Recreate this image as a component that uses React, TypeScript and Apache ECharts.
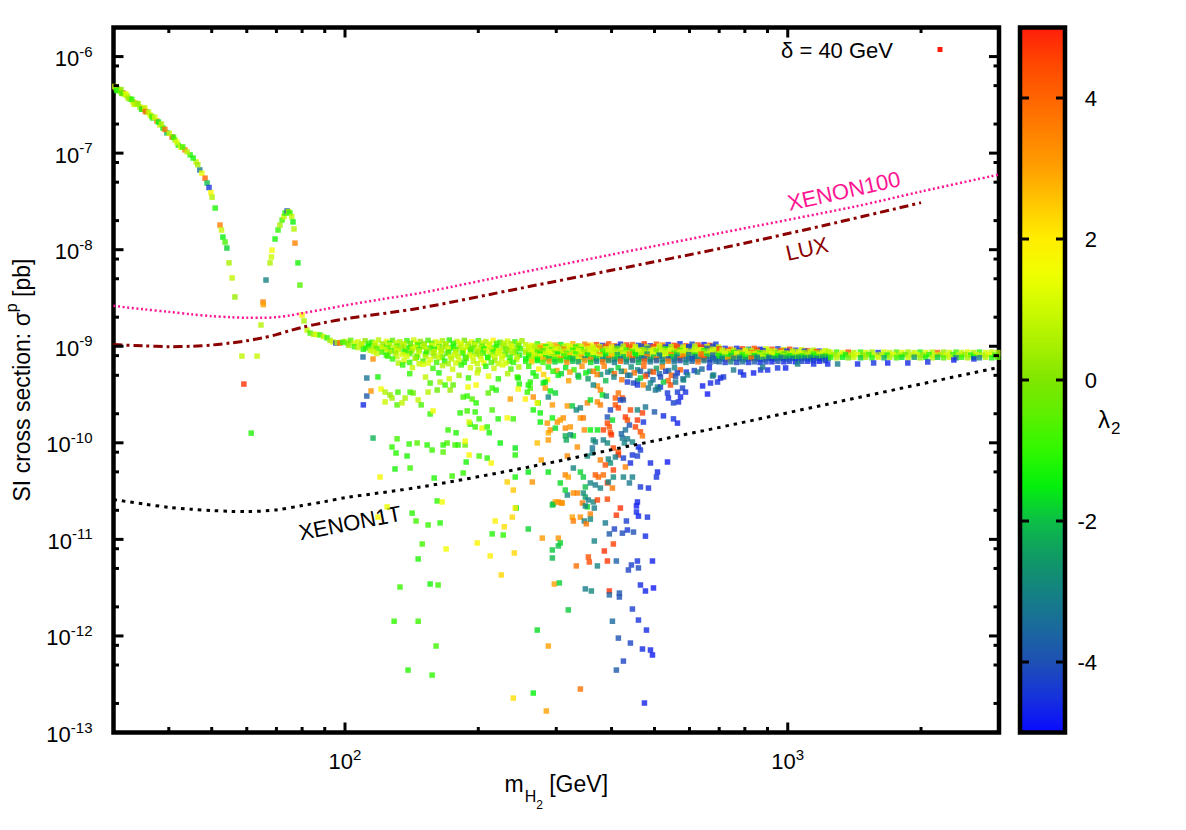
import React, { useEffect, useRef } from 'react';
import * as echarts from 'echarts';

const FONT = '"Liberation Sans", Arial, Helvetica, sans-serif';

const X_MIN = 30;
const X_MAX = 3000;
const Y_MIN = 1e-13;
const Y_MAX = 2e-6;
const CB_MIN = -5;
const CB_MAX = 5;

const xMajorTicks = [100, 1000];
const xMinorTicks = [40, 50, 60, 70, 80, 90, 200, 300, 400, 500, 600, 700, 800, 900, 2000];
const yMajorTicks = [1e-13, 1e-12, 1e-11, 1e-10, 1e-9, 1e-8, 1e-7, 1e-6];
const yMinorTicks = [2e-13, 5e-13, 8e-13, 2e-12, 5e-12, 8e-12, 2e-11, 5e-11, 8e-11, 2e-10, 5e-10, 8e-10,
  2e-9, 5e-9, 8e-9, 2e-8, 5e-8, 8e-8, 2e-7, 5e-7, 8e-7];
const cbTicks = [-4, -2, 0, 2, 4];

// lambda_2 palette from -5 (bottom) to 5 (top), 0.5 steps
const lambdaPalette = ['#0a0aff', '#1632dc', '#1e50b4', '#1a6a9c', '#148282', '#109a64', '#0cbe46', '#04f00c',
  '#30f800', '#5cf000', '#80e600', '#a8f000', '#ccfa00', '#f0ff00', '#ffee00', '#ffc800', '#ffa000', '#ff8200',
  '#ff6400', '#ff4600', '#ff1e0a'];

// exclusion limits [m_H2 (GeV), sigma (pb)]
const xenon100Line = [[30, 2.62e-9], [35, 2.42e-9], [40, 2.27e-9], [45, 2.14e-9], [50, 2.05e-9], [55, 2.0e-9],
  [60, 1.97e-9], [65, 1.97e-9], [70, 2.0e-9], [75, 2.08e-9], [80, 2.2e-9], [90, 2.42e-9], [100, 2.65e-9],
  [120, 3.05e-9], [150, 3.6e-9], [250, 5.8e-9], [420, 9.3e-9], [710, 1.5e-8], [1420, 2.8e-8], [2000, 4.0e-8],
  [3000, 6.0e-8]];
const luxLine = [[30, 1.04e-9], [35, 1.01e-9], [40, 0.99e-9], [45, 1.0e-9], [50, 1.03e-9], [55, 1.08e-9],
  [60, 1.14e-9], [65, 1.22e-9], [70, 1.32e-9], [75, 1.45e-9], [80, 1.57e-9], [90, 1.76e-9], [100, 1.92e-9],
  [148, 2.49e-9], [250, 4.0e-9], [420, 6.4e-9], [710, 1.04e-8], [1200, 1.77e-8], [2000, 3.07e-8]];
const xenon1tLine = [[30, 2.58e-11], [35, 2.33e-11], [40, 2.15e-11], [45, 2.05e-11], [50, 1.99e-11], [55, 1.95e-11],
  [60, 1.94e-11], [70, 2.02e-11], [80, 2.24e-11], [90, 2.46e-11], [100, 2.7e-11], [149, 3.5e-11], [263, 5.67e-11],
  [443, 9.35e-11], [749, 1.54e-10], [1470, 3.0e-10], [2900, 5.86e-10], [3000, 6.05e-10]];

// scan points [m_H2 (GeV), sigma_p (pb), lambda_2]
const curvePoints = [
  [30.4, 4.73e-7, 0.6], [30.6, 4.6e-7, -1.0], [30.8, 4.5e-7, -0.4], [31.0, 4.4e-7, 1.1], [31.5, 4.2e-7, 4.5],
  [31.8, 4.05e-7, 0.9], [32.2, 3.91e-7, 0.3], [32.7, 3.64e-7, -0.8], [33.2, 3.39e-7, 1.0], [33.6, 3.3e-7, 2.8],
  [33.9, 3.23e-7, -1.2], [34.4, 3.01e-7, 0.7], [35.0, 2.87e-7, 3.6], [35.7, 2.67e-7, -0.5], [36.3, 2.48e-7, 1.2],
  [36.8, 2.31e-7, -1.0], [37.6, 2.15e-7, 3.2], [38.2, 1.96e-7, 0.8], [38.8, 1.82e-7, -1.4], [39.6, 1.62e-7, -2.0],
  [40.7, 1.47e-7, 4.2], [41.3, 1.37e-7, 0.5], [42.0, 1.21e-7, -0.9], [42.6, 1.15e-7, 1.0], [43.5, 1.08e-7, 3.4],
  [44.7, 9.6e-8, -1.1], [46.1, 8.1e-8, 0.9], [47.0, 6.7e-8, -3.2], [47.5, 6.2e-8, 1.4], [48.3, 5.5e-8, 4.0],
  [48.8, 4.9e-8, -2.0], [49.3, 4.4e-8, -4.5], [49.8, 3.9e-8, 1.8], [50.1, 3.5e-8, 0.6], [50.9, 2.7e-8, -1.2],
  [52.2, 1.8e-8, 3.6], [52.6, 1.6e-8, 0.9], [53.0, 1.35e-8, -1.5], [53.6, 1.2e-8, -0.8], [54.1, 1.04e-8, -1.8],
  [54.7, 7.3e-9, 0.5], [55.6, 5.1e-9, 0.8], [56.4, 3.24e-9, 0.3],
  [30.2, 4.9e-7, 1.0], [30.5, 4.45e-7, -1.2], [31.2, 4.55e-7, 0.2], [31.3, 4.15e-7, -0.7], [32.0, 4.1e-7, 1.3],
  [32.4, 3.7e-7, 0.5], [33.0, 3.6e-7, -1.0], [33.4, 3.2e-7, 0.8], [34.1, 3.25e-7, 0.4], [34.7, 2.85e-7, -1.3],
  [35.3, 2.95e-7, 1.0], [35.4, 2.7e-7, 4.0], [36.0, 2.65e-7, 0.9], [36.6, 2.4e-7, -0.6], [37.2, 2.35e-7, 1.1],
  [37.9, 2.1e-7, -1.5], [38.5, 2.0e-7, 0.6], [39.2, 1.76e-7, 3.8], [40.1, 1.6e-7, 0.9], [41.0, 1.46e-7, -1.0],
  [41.7, 1.3e-7, 1.2], [43.0, 1.16e-7, -0.8], [44.0, 1.03e-7, 0.7], [45.4, 8.9e-8, -1.3], [46.5, 7.6e-8, 0.4],
  [58.5, 7.9e-10, 0.8], [63.3, 7.9e-10, 0.9], [59.1, 4.06e-10, 4.8], [61.4, 1.26e-10, -1.2],
  [64.6, 1.66e-9, 0.7], [65.3, 2.87e-9, 3.5], [65.4, 2.7e-9, 3.0], [66.3, 4.85e-9, -3.0], [67.7, 7.3e-9, 0.6],
  [68.2, 8.4e-9, 1.0], [68.4, 9.9e-9, 1.6], [69.5, 1.29e-8, -1.3], [70.6, 1.6e-8, -1.0], [71.3, 1.8e-8, 0.5],
  [72.1, 2.03e-8, -0.8], [72.8, 2.2e-8, 0.9], [73.2, 2.4e-8, -1.1], [74.0, 2.52e-8, -4.0], [74.5, 2.48e-8, 0.4],
  [75.1, 2.4e-8, -1.0], [75.8, 2.2e-8, 0.8], [76.3, 1.94e-8, -1.4], [76.7, 1.64e-8, 0.7], [77.1, 1.17e-8, 3.5],
  [78.3, 7.3e-9, -1.3], [79.1, 4.3e-9, -0.6], [80.0, 2.11e-9, 2.0], [80.8, 1.83e-9, 0.5], [82.1, 1.47e-9, 0.9],
  [83.4, 1.37e-9, -0.7], [84.9, 1.33e-9, 0.6], [86.3, 1.32e-9, 1.1], [87.8, 1.31e-9, -0.9], [89.4, 1.26e-9, 0.8],
  [91.1, 1.22e-9, -1.1], [92.5, 1.15e-9, 0.4], [93.9, 1.11e-9, 1.0], [95.4, 1.08e-9, -4.6], [96.0, 1.09e-9, 0.7],
  [97.4, 1.08e-9, 4.0], [98.8, 1.1e-9, -0.9],
];

const bandLowPoints = [
  [100, 1.12e-9, 0.9], [103, 1.15e-9, -0.6], [107, 1.11e-9, 1.1], [111, 1.14e-9, 0.2], [115, 1.1e-9, -1.0],
  [119, 1.16e-9, 0.7], [124, 1.12e-9, 1.3], [128, 1.15e-9, -0.4], [133, 1.11e-9, 0.5], [138, 1.14e-9, -0.9],
  [143, 1.16e-9, 1.0], [148, 1.12e-9, 0.1], [154, 1.15e-9, -0.7], [160, 1.11e-9, 1.2], [166, 1.14e-9, 0.4],
  [172, 1.16e-9, -1.1], [179, 1.12e-9, 0.8], [186, 1.15e-9, -0.2], [193, 1.11e-9, 1.4], [200, 1.14e-9, -0.8],
  [208, 1.12e-9, 0.6], [216, 1.15e-9, 1.8], [224, 1.1e-9, -0.5], [233, 1.13e-9, 1.1], [242, 1.11e-9, -1.2],
  [251, 1.14e-9, 0.3],
  [101.5, 1.07e-9, -0.3], [105, 1.08e-9, 1.0], [109, 1.06e-9, 0.6], [113, 1.07e-9, -0.9], [117, 1.08e-9, 1.2],
  [121.5, 1.06e-9, 0.4], [126, 1.07e-9, -1.1], [130.5, 1.08e-9, 0.9], [135.5, 1.06e-9, 0.7], [140.5, 1.07e-9, -0.5],
  [145.5, 1.08e-9, 1.1], [151, 1.06e-9, 0.2], [157, 1.07e-9, -0.8], [163, 1.08e-9, 1.0], [169, 1.06e-9, 0.6],
  [175.5, 1.07e-9, -1.0], [182.5, 1.08e-9, 1.3], [189.5, 1.06e-9, 0.5], [196.5, 1.07e-9, -0.4], [204, 1.08e-9, 0.9],
  [212, 1.06e-9, 1.2], [220, 1.07e-9, -0.9], [228.5, 1.08e-9, 0.7], [237.5, 1.06e-9, 0.3], [246.5, 1.07e-9, 1.0],
  [102, 1.02e-9, 0.4], [105, 9.9e-10, -0.9], [109, 1.03e-9, 0.8], [113, 1.0e-9, -1.4], [117, 1.02e-9, 0.6],
  [122, 9.9e-10, -0.3], [126, 1.03e-9, 1.0], [131, 1.0e-9, -0.8], [136, 1.02e-9, 0.9], [141, 9.9e-10, 0.2],
  [146, 1.03e-9, -1.0], [151, 1.0e-9, 0.7], [157, 1.02e-9, 1.2], [163, 9.9e-10, -0.5], [169, 1.03e-9, 0.5],
  [176, 1.0e-9, -1.2], [183, 1.02e-9, 0.9], [190, 9.9e-10, 0.0], [197, 1.03e-9, 1.1], [204, 1.0e-9, -0.7],
  [212, 1.02e-9, 0.8], [220, 9.9e-10, -1.1], [229, 1.03e-9, 0.6], [238, 1.0e-9, 1.3], [247, 1.02e-9, -0.4],
  [107, 9.7e-10, 0.8], [111.5, 9.6e-10, -1.0], [116, 9.7e-10, 0.5], [120.5, 9.8e-10, 1.1], [125, 9.6e-10, -0.6],
  [129.5, 9.7e-10, 0.9], [134.5, 9.8e-10, 0.3], [139.5, 9.6e-10, -1.2], [144.5, 9.7e-10, 1.0], [150, 9.8e-10, 0.6],
  [155.5, 9.6e-10, -0.7], [161.5, 9.7e-10, 1.2], [167.5, 9.8e-10, 0.4], [174, 9.6e-10, -1.0], [181, 9.7e-10, 0.8],
  [188, 9.8e-10, 1.1], [195, 9.6e-10, -0.5], [202.5, 9.7e-10, 0.7], [210, 9.8e-10, 1.3], [218, 9.6e-10, -0.9],
  [226.5, 9.7e-10, 0.5], [235.5, 9.8e-10, 1.0], [244.5, 9.6e-10, -0.3],
  [110, 9.3e-10, -1.2], [114, 9.1e-10, 0.7], [118, 9.4e-10, -0.6], [123, 9.2e-10, 1.0], [127, 9.0e-10, -1.0],
  [132, 9.3e-10, 0.5], [137, 9.1e-10, -0.3], [142, 9.4e-10, 1.1], [147, 9.2e-10, -0.9], [153, 9.0e-10, 0.8],
  [159, 9.3e-10, -1.3], [165, 9.1e-10, 0.6], [171, 9.4e-10, 1.2], [178, 9.2e-10, -0.8], [185, 9.0e-10, 0.4],
  [192, 9.3e-10, -0.5], [199, 9.1e-10, 1.0], [206, 9.4e-10, -1.1], [214, 9.2e-10, 0.7], [222, 9.0e-10, 1.5],
  [231, 9.3e-10, -0.6], [240, 9.1e-10, 0.9], [249, 9.4e-10, -1.0],
  [116, 8.8e-10, 1.0], [121, 8.7e-10, -0.8], [126, 8.8e-10, 0.6], [131, 8.9e-10, 1.2], [136, 8.7e-10, -1.1],
  [141.5, 8.8e-10, 0.4], [147, 8.9e-10, 0.9], [153, 8.7e-10, -0.5], [159, 8.8e-10, 1.1], [165, 8.9e-10, 0.7],
  [171.5, 8.7e-10, -1.2], [178, 8.8e-10, 0.8], [185, 8.9e-10, 1.0], [192.5, 8.7e-10, -0.7], [200, 8.8e-10, 0.5],
  [208, 8.9e-10, 1.2], [216, 8.7e-10, -1.0], [224.5, 8.8e-10, 0.9], [233.5, 8.9e-10, 0.3], [242.5, 8.7e-10, -0.6],
  [118, 8.4e-10, 0.9], [124, 8.1e-10, -1.1], [130, 8.5e-10, 0.3], [135, 8.2e-10, 1.2], [140, 8.4e-10, -0.7],
  [146, 8.0e-10, 0.8], [152, 8.3e-10, -1.2], [158, 8.5e-10, 0.5], [164, 8.1e-10, 1.0], [170, 8.4e-10, -0.4],
  [177, 8.2e-10, 0.9], [184, 8.5e-10, -0.9], [191, 8.1e-10, 1.3], [198, 8.3e-10, 0.2], [205, 8.5e-10, -1.0],
  [213, 8.1e-10, 0.8], [221, 8.4e-10, 1.1], [230, 8.2e-10, -0.6], [239, 8.5e-10, 0.6], [248, 8.1e-10, -1.3],
  [125, 7.9e-10, -0.9], [131, 7.8e-10, 0.9], [138, 7.9e-10, 1.2], [145, 7.7e-10, -1.1], [152, 7.8e-10, 0.7],
  [159, 7.9e-10, 0.4], [166, 7.7e-10, -0.6], [173, 7.8e-10, 1.0], [180, 7.9e-10, 0.8], [187, 7.7e-10, -1.2],
  [194.5, 7.8e-10, 1.1], [202, 7.9e-10, 0.5], [210, 7.7e-10, -0.8], [218, 7.8e-10, 0.9], [227, 7.9e-10, 1.2],
  [236, 7.7e-10, -1.0], [245, 7.8e-10, 0.6],
  [128, 7.4e-10, -1.0], [136, 7.1e-10, 1.0], [144, 7.5e-10, 0.5], [150, 7.0e-10, -0.8], [156, 7.3e-10, 1.2],
  [163, 7.6e-10, 0.9], [168, 7.0e-10, -1.2], [174, 7.4e-10, 0.7], [181, 7.1e-10, 1.1], [188, 7.5e-10, -0.3],
  [195, 7.0e-10, 0.9], [203, 7.3e-10, 1.3], [210, 7.6e-10, -1.1], [218, 7.1e-10, 0.4], [226, 7.4e-10, 1.0],
  [235, 7.0e-10, -0.9], [244, 7.3e-10, 0.8],
  [132, 6.7e-10, 0.7], [140, 6.8e-10, -1.0], [147, 6.6e-10, 0.9], [154, 6.7e-10, 1.2], [161, 6.8e-10, -0.8],
  [171, 6.6e-10, 0.5], [178, 6.7e-10, 1.0], [186, 6.8e-10, -1.1], [199, 6.6e-10, 0.8], [206, 6.7e-10, 1.3],
  [214, 6.8e-10, -0.6], [222, 6.6e-10, 0.9], [231, 6.7e-10, 1.1], [240, 6.8e-10, -1.0],
  [135, 6.4e-10, -1.1], [142, 6.0e-10, 0.9], [150, 6.5e-10, 1.2], [158, 5.9e-10, -0.9], [166, 6.3e-10, 0.6],
  [175, 5.8e-10, 1.0], [183, 6.4e-10, -1.0], [192, 6.0e-10, 1.1], [200, 5.7e-10, 0.5], [208, 6.2e-10, -1.2],
  [217, 5.9e-10, 0.9], [227, 6.4e-10, 1.2], [237, 5.8e-10, -0.8], [247, 6.1e-10, 0.7],
  [140, 5.2e-10, -1.0], [152, 4.8e-10, 0.8], [163, 5.3e-10, -1.2], [172, 4.6e-10, 1.1], [181, 5.0e-10, 0.4],
  [190, 4.7e-10, -0.9], [199, 5.3e-10, 1.0], [211, 4.9e-10, 1.3], [222, 4.6e-10, -1.1], [233, 5.2e-10, 0.6],
  [245, 4.8e-10, -0.7],
];

const bandMidPoints = [
  [256, 1.04e-9, 0.8], [264, 1.02e-9, 1.5], [272, 1.06e-9, -0.9], [280, 1.01e-9, 2.5], [289, 1.05e-9, 1.0],
  [298, 1.03e-9, 3.0], [307, 1.04e-9, -1.4], [317, 1.02e-9, 1.2], [327, 1.06e-9, 2.8], [337, 1.01e-9, 0.5],
  [348, 1.05e-9, 3.4], [359, 1.03e-9, 1.8], [370, 1.04e-9, 4.5], [382, 1.02e-9, -4.5], [394, 1.06e-9, 4.2],
  [406, 1.01e-9, 3.8], [419, 1.05e-9, -4.6], [432, 1.03e-9, 4.7], [446, 1.04e-9, 4.0], [460, 1.02e-9, -4.4],
  [474, 1.06e-9, 4.6], [489, 1.01e-9, -4.7], [505, 1.05e-9, 4.3], [521, 1.03e-9, 3.6], [537, 1.04e-9, -4.5],
  [554, 1.02e-9, 4.8], [571, 1.06e-9, -4.6], [589, 1.01e-9, 4.4], [608, 1.05e-9, -4.2], [627, 1.03e-9, 4.7],
  [647, 1.04e-9, -4.8], [667, 1.02e-9, 4.5], [688, 1.05e-9, -4.4],
  [260, 9.9e-10, 1.1], [268, 1.0e-9, 0.7], [276, 9.8e-10, 2.2], [284, 9.9e-10, -0.9], [293, 1.0e-9, 1.0],
  [302, 9.8e-10, 3.0], [312, 9.9e-10, 0.6], [322, 1.0e-9, 1.2], [332, 9.8e-10, -1.2], [342, 9.9e-10, 0.9],
  [353, 1.0e-9, 3.5], [364, 9.8e-10, 1.0], [376, 9.9e-10, 0.8], [388, 1.0e-9, 4.3], [400, 9.8e-10, 1.1],
  [412, 9.9e-10, -4.2], [425, 1.0e-9, 0.6], [439, 9.8e-10, 4.4], [453, 9.9e-10, 1.0], [467, 1.0e-9, -4.0],
  [481, 9.8e-10, 0.9], [497, 9.9e-10, 4.5], [513, 1.0e-9, 1.2], [529, 9.8e-10, -4.3], [545, 9.9e-10, 0.7],
  [562, 1.0e-9, 4.2], [580, 9.8e-10, 1.0], [598, 9.9e-10, -4.5], [617, 1.0e-9, 0.8], [637, 9.8e-10, 4.6],
  [657, 9.9e-10, 1.1], [677, 1.0e-9, -4.1], [698, 9.8e-10, 0.9],
  [260, 9.5e-10, 1.0], [268, 9.3e-10, 0.6], [276, 9.6e-10, 3.2], [284, 9.4e-10, 1.1], [293, 9.2e-10, -0.8],
  [302, 9.5e-10, 0.9], [312, 9.3e-10, 3.6], [322, 9.6e-10, 1.2], [332, 9.4e-10, 0.5], [342, 9.2e-10, -1.0],
  [353, 9.5e-10, 1.1], [364, 9.3e-10, 0.7], [376, 9.6e-10, 3.4], [388, 9.4e-10, 0.9], [400, 9.2e-10, 1.2],
  [412, 9.5e-10, -0.6], [425, 9.3e-10, 0.8], [439, 9.6e-10, 4.0], [453, 9.4e-10, 1.0], [467, 9.2e-10, 0.4],
  [481, 9.5e-10, -3.2], [497, 9.3e-10, 1.1], [513, 9.6e-10, 0.6], [529, 9.4e-10, -1.2], [545, 9.2e-10, 0.9],
  [562, 9.5e-10, 4.2], [580, 9.3e-10, 1.0], [598, 9.6e-10, -3.8], [617, 9.4e-10, 0.7], [637, 9.2e-10, 1.2],
  [657, 9.5e-10, -4.0], [677, 9.3e-10, 0.8], [698, 9.4e-10, 0.5],
  [256, 9.0e-10, 0.9], [264, 8.9e-10, 1.2], [272, 9.1e-10, 0.5], [280, 9.0e-10, -0.7], [289, 8.9e-10, 1.0],
  [298, 9.1e-10, 1.3], [307, 9.0e-10, 0.4], [317, 8.9e-10, 0.8], [327, 9.1e-10, -1.1], [337, 9.0e-10, 1.1],
  [348, 8.9e-10, 0.6], [359, 9.1e-10, 1.0], [370, 9.0e-10, 1.2], [382, 8.9e-10, -0.8], [394, 9.1e-10, 0.9],
  [406, 9.0e-10, 0.5], [419, 8.9e-10, 1.1], [432, 9.1e-10, -1.0], [446, 9.0e-10, 0.8], [460, 8.9e-10, 1.2],
  [474, 9.1e-10, 0.3], [489, 9.0e-10, 1.0], [505, 8.9e-10, -0.6], [521, 9.1e-10, 0.9], [537, 9.0e-10, 1.1],
  [554, 8.9e-10, 0.7], [571, 9.1e-10, -0.9], [589, 9.0e-10, 1.2], [608, 8.9e-10, 0.6], [627, 9.1e-10, 1.0],
  [647, 9.0e-10, -1.3], [667, 8.9e-10, 0.8], [688, 9.1e-10, 1.1],
  [256, 8.6e-10, 0.5], [264, 8.5e-10, 1.2], [272, 8.7e-10, -0.5], [280, 8.4e-10, 0.9], [289, 8.6e-10, 1.4],
  [298, 8.5e-10, 0.2], [307, 8.7e-10, 1.0], [317, 8.4e-10, -0.9], [327, 8.6e-10, 0.8], [337, 8.5e-10, 1.3],
  [348, 8.7e-10, 0.3], [359, 8.4e-10, 1.1], [370, 8.6e-10, 0.6], [382, 8.5e-10, -0.8], [394, 8.7e-10, 1.0],
  [406, 8.4e-10, 1.2], [419, 8.6e-10, 0.4], [432, 8.5e-10, 0.9], [446, 8.7e-10, -1.0], [460, 8.4e-10, 1.1],
  [474, 8.6e-10, 0.7], [489, 8.5e-10, 1.3], [505, 8.7e-10, 0.2], [521, 8.4e-10, 0.9], [537, 8.6e-10, 1.0],
  [554, 8.5e-10, -0.6], [571, 8.7e-10, 1.2], [589, 8.4e-10, 0.5], [608, 8.6e-10, 0.8], [627, 8.5e-10, 1.1],
  [647, 8.7e-10, 0.3], [667, 8.4e-10, 1.0], [688, 8.6e-10, 0.6],
  [260, 8.2e-10, -0.5], [268, 8.1e-10, 1.0], [276, 8.3e-10, -1.2], [284, 8.2e-10, 0.8], [293, 8.1e-10, 1.1],
  [302, 8.3e-10, -1.5], [312, 8.2e-10, 0.6], [322, 8.1e-10, 2.5], [332, 8.3e-10, -1.0], [342, 8.2e-10, 0.9],
  [353, 8.1e-10, -1.8], [364, 8.3e-10, 1.2], [376, 8.2e-10, 3.0], [388, 8.1e-10, -1.4], [400, 8.3e-10, 0.7],
  [412, 8.2e-10, -2.2], [425, 8.1e-10, 1.0], [439, 8.3e-10, 3.4], [453, 8.2e-10, -1.6], [467, 8.1e-10, 0.5],
  [481, 8.3e-10, -2.6], [497, 8.2e-10, 1.1], [513, 8.1e-10, -3.0], [529, 8.3e-10, 0.8], [545, 8.2e-10, 3.6],
  [562, 8.1e-10, -2.0], [580, 8.3e-10, 0.9], [598, 8.2e-10, -3.2], [617, 8.1e-10, -1.5], [637, 8.3e-10, 4.0],
  [657, 8.2e-10, 0.6], [677, 8.1e-10, -3.6], [698, 8.3e-10, -2.2],
  [260, 7.8e-10, -1.0], [268, 7.7e-10, 0.8], [276, 7.9e-10, 1.8], [284, 7.6e-10, -1.3], [293, 7.8e-10, 0.4],
  [302, 7.7e-10, 2.2], [312, 7.9e-10, -0.9], [322, 7.6e-10, -1.4], [332, 7.8e-10, 0.7], [342, 7.7e-10, 3.0],
  [353, 7.9e-10, -1.1], [364, 7.6e-10, -1.6], [376, 7.8e-10, 1.0], [388, 7.7e-10, -1.8], [400, 7.9e-10, 2.6],
  [412, 7.6e-10, -1.2], [425, 7.8e-10, -2.0], [439, 7.7e-10, 3.3], [453, 7.9e-10, -1.5], [467, 7.6e-10, -2.4],
  [481, 7.8e-10, 3.6], [497, 7.7e-10, -2.0], [513, 7.9e-10, -2.8], [529, 7.6e-10, 1.2], [545, 7.8e-10, -1.5],
  [562, 7.7e-10, -3.0], [580, 7.9e-10, 3.8], [598, 7.6e-10, -2.6], [617, 7.8e-10, -3.2], [637, 7.7e-10, 4.0],
  [657, 7.9e-10, -2.0], [677, 7.6e-10, -3.4], [698, 7.8e-10, -1.6],
  [256, 7.4e-10, -1.5], [264, 7.3e-10, 0.6], [272, 7.4e-10, -1.0], [280, 7.3e-10, 2.8], [289, 7.4e-10, -1.9],
  [298, 7.3e-10, -1.2], [307, 7.4e-10, 3.2], [317, 7.3e-10, -1.6], [327, 7.4e-10, -2.2], [337, 7.3e-10, 0.9],
  [348, 7.4e-10, -2.8], [359, 7.3e-10, 3.5], [370, 7.4e-10, -1.8], [382, 7.3e-10, -3.0], [394, 7.4e-10, 3.9],
  [406, 7.3e-10, -2.4], [419, 7.4e-10, -3.4], [432, 7.3e-10, -2.0], [446, 7.4e-10, 4.2], [460, 7.3e-10, -3.0],
  [474, 7.4e-10, -3.8], [489, 7.3e-10, -2.5], [505, 7.4e-10, 3.7], [521, 7.3e-10, -3.2], [537, 7.4e-10, -4.1],
  [554, 7.3e-10, -2.9], [571, 7.4e-10, 4.0], [589, 7.3e-10, -3.5], [608, 7.4e-10, -4.3], [627, 7.3e-10, -3.0],
  [647, 7.4e-10, 4.4], [667, 7.3e-10, -3.8], [688, 7.4e-10, -4.0],
  [256, 7.0e-10, -1.2], [264, 6.9e-10, 2.5], [272, 7.1e-10, -1.5], [280, 6.8e-10, -0.8], [289, 7.0e-10, 3.1],
  [298, 6.9e-10, -1.8], [307, 7.1e-10, -1.3], [317, 6.8e-10, 3.4], [327, 7.0e-10, -2.0], [337, 6.9e-10, -2.5],
  [348, 7.1e-10, 3.0], [359, 6.8e-10, -1.7], [370, 7.0e-10, -3.0], [382, 6.9e-10, 3.8], [394, 7.1e-10, -2.6],
  [406, 6.8e-10, -3.2], [419, 7.0e-10, 4.1], [432, 6.9e-10, -3.0], [446, 7.1e-10, -3.5], [460, 6.8e-10, -2.2],
  [474, 7.0e-10, 4.0], [489, 6.9e-10, -3.3], [505, 7.1e-10, -3.8], [521, 6.8e-10, -2.8], [537, 7.0e-10, 3.6],
  [554, 6.9e-10, -3.4], [571, 7.1e-10, -4.0], [589, 6.8e-10, -3.0], [608, 7.0e-10, -3.6], [627, 6.9e-10, 3.9],
  [647, 7.1e-10, -3.2], [667, 6.8e-10, -4.2], [688, 7.0e-10, -3.5],
  [260, 6.2e-10, -1.0], [274, 5.8e-10, 2.0], [288, 6.1e-10, -1.3], [301, 5.6e-10, 3.0], [315, 6.0e-10, -1.6],
  [329, 5.7e-10, -0.9], [343, 6.2e-10, 3.3], [357, 5.5e-10, -2.0], [371, 5.9e-10, -1.4], [385, 6.2e-10, 3.5],
  [399, 5.6e-10, -2.2], [414, 6.0e-10, -1.8], [428, 5.5e-10, 3.2], [443, 6.1e-10, -2.8], [458, 5.7e-10, -3.0],
  [473, 6.2e-10, 4.0], [489, 5.5e-10, -3.2], [505, 5.9e-10, -2.5], [521, 6.1e-10, 3.6], [538, 5.6e-10, -3.4],
  [555, 6.0e-10, -3.0], [572, 5.7e-10, 4.2],
  [266, 5.3e-10, -1.4], [281, 5.1e-10, 2.4], [295, 5.5e-10, -1.1], [308, 5.2e-10, -1.8], [322, 5.4e-10, 3.1],
  [336, 5.0e-10, -2.3], [350, 5.3e-10, -1.5], [364, 5.5e-10, 3.6], [378, 5.1e-10, -2.6], [392, 5.4e-10, -3.1],
  [406, 5.2e-10, 4.0], [421, 5.5e-10, -2.9], [435, 5.0e-10, -3.4], [450, 5.3e-10, 3.8], [465, 5.5e-10, -3.7],
  [481, 5.1e-10, -4.0], [497, 5.4e-10, 4.3], [513, 5.2e-10, -3.5], [530, 5.5e-10, -4.2], [546, 5.0e-10, 4.1],
  [563, 5.3e-10, -4.4], [590, 5.4e-10, -4.5], [615, 5.6e-10, -4.3], [640, 5.8e-10, -3.6], [665, 6.0e-10, -4.6],
  [270, 4.9e-10, -1.2], [287, 4.5e-10, 1.6], [303, 5.0e-10, -1.5], [320, 4.4e-10, 3.0], [337, 4.8e-10, -1.8],
  [354, 4.6e-10, -2.5], [371, 5.1e-10, 3.4], [388, 4.4e-10, -2.0], [405, 4.8e-10, -3.0], [422, 4.5e-10, 3.8],
  [440, 5.0e-10, -3.3], [458, 4.4e-10, -2.8], [477, 4.9e-10, 4.3], [496, 4.5e-10, -3.6], [516, 4.8e-10, -4.2],
  [537, 4.4e-10, 4.0], [558, 4.9e-10, -4.0], [580, 4.6e-10, -3.5],
];

const bandHighPoints = [
  [700, 9.4e-10, 4.6], [722, 9.5e-10, -4.5], [744, 9.3e-10, 4.3], [767, 9.5e-10, -4.7], [790, 9.4e-10, 4.8],
  [815, 9.3e-10, -3.0], [840, 9.5e-10, 4.4], [866, 9.3e-10, -4.6], [893, 9.4e-10, 1.0], [921, 9.3e-10, 4.5],
  [950, 9.4e-10, -4.3], [980, 9.2e-10, 0.8], [1010, 9.3e-10, 4.6], [1042, 9.1e-10, -4.4], [1075, 9.2e-10, 1.1],
  [1108, 9.0e-10, 4.2], [1143, 9.1e-10, 0.6], [1179, 8.9e-10, -4.5], [1216, 9.0e-10, 0.9],
  [711, 9.1e-10, 1.0], [733, 9.0e-10, 4.2], [755, 9.1e-10, 0.8], [778, 9.0e-10, -4.3], [802, 9.1e-10, 1.1],
  [827, 9.0e-10, 0.6], [853, 9.1e-10, 4.5], [879, 9.0e-10, -4.4], [907, 9.0e-10, 0.9], [935, 8.9e-10, 1.2],
  [965, 9.0e-10, 4.0], [995, 8.9e-10, -4.6], [1026, 8.9e-10, 0.7], [1058, 8.8e-10, 1.0], [1091, 8.9e-10, -4.2],
  [1125, 8.8e-10, 0.8], [1161, 8.8e-10, 4.4], [1197, 8.7e-10, 1.1], [1235, 8.8e-10, 0.5],
  [711, 8.7e-10, 0.9], [733, 8.8e-10, 1.2], [755, 8.6e-10, -1.0], [778, 8.7e-10, 0.7], [802, 8.8e-10, 1.1],
  [827, 8.6e-10, 3.5], [853, 8.7e-10, 0.4], [879, 8.6e-10, 1.0], [907, 8.7e-10, 0.8], [935, 8.5e-10, -0.6],
  [965, 8.6e-10, 1.2], [995, 8.5e-10, 0.5], [1026, 8.6e-10, 0.9], [1058, 8.5e-10, 1.1], [1091, 8.6e-10, 0.3],
  [1125, 8.4e-10, 1.0], [1161, 8.5e-10, 0.7], [1197, 8.4e-10, 1.2], [1235, 8.5e-10, 0.6],
  [700, 8.4e-10, 0.7], [722, 8.4e-10, 1.0], [744, 8.3e-10, -0.8], [767, 8.4e-10, 1.2], [790, 8.3e-10, 0.5],
  [815, 8.4e-10, 0.9], [840, 8.3e-10, 1.1], [866, 8.4e-10, -1.0], [893, 8.3e-10, 0.8], [921, 8.4e-10, 1.2],
  [950, 8.3e-10, 0.6], [980, 8.3e-10, -0.7], [1010, 8.3e-10, 1.0], [1042, 8.2e-10, 0.9], [1075, 8.3e-10, 1.3],
  [1108, 8.2e-10, 0.4], [1143, 8.3e-10, -0.9], [1179, 8.2e-10, 1.0], [1216, 8.2e-10, 0.8],
  [700, 8.0e-10, -1.4], [722, 8.1e-10, 0.8], [744, 7.9e-10, -2.0], [767, 8.0e-10, 1.0], [790, 8.1e-10, -1.2],
  [815, 7.9e-10, 0.6], [840, 8.0e-10, -1.6], [866, 8.1e-10, 0.9], [893, 7.9e-10, -1.0], [921, 8.0e-10, 1.1],
  [950, 8.0e-10, -1.4], [980, 7.9e-10, 0.7], [1010, 8.0e-10, -1.2], [1042, 7.9e-10, 0.5], [1075, 8.0e-10, -0.8],
  [1108, 7.9e-10, 1.0], [1143, 8.0e-10, -1.1], [1179, 7.9e-10, 0.8], [1216, 8.0e-10, -0.6],
  [711, 7.7e-10, -2.0], [733, 7.7e-10, -1.5], [755, 7.6e-10, 3.0], [778, 7.7e-10, -2.6], [802, 7.7e-10, -1.2],
  [827, 7.6e-10, -2.2], [853, 7.7e-10, -3.0], [879, 7.7e-10, 0.6], [907, 7.7e-10, -2.5], [935, 7.6e-10, -1.6],
  [965, 7.7e-10, -2.8], [995, 7.7e-10, -2.0], [1026, 7.7e-10, -1.4], [1058, 7.7e-10, -2.4], [1091, 7.7e-10, -1.8],
  [1125, 7.7e-10, -2.6], [1161, 7.8e-10, -1.1], [1197, 7.8e-10, -2.2], [1235, 7.8e-10, -1.9],
  [711, 7.4e-10, -3.0], [733, 7.3e-10, 3.4], [755, 7.5e-10, -2.8], [778, 7.4e-10, -3.2], [802, 7.3e-10, -2.5],
  [827, 7.5e-10, 4.0], [853, 7.4e-10, -3.0], [879, 7.3e-10, -2.6], [907, 7.5e-10, -3.3], [935, 7.4e-10, -2.8],
  [965, 7.5e-10, -3.0], [995, 7.4e-10, -2.6], [1026, 7.5e-10, -3.1], [1058, 7.4e-10, -2.4], [1091, 7.5e-10, -2.9],
  [1125, 7.4e-10, -2.7], [1161, 7.5e-10, -3.2], [1197, 7.4e-10, -2.5], [1235, 7.5e-10, -3.0],
  [700, 6.9e-10, -3.6], [722, 6.8e-10, -4.4], [744, 6.9e-10, -3.0], [767, 6.8e-10, -4.2], [790, 6.9e-10, -3.4],
  [815, 6.8e-10, -4.5], [840, 6.9e-10, -3.8], [866, 6.8e-10, -4.6], [893, 6.9e-10, -4.2], [921, 6.9e-10, -4.7],
  [950, 7.0e-10, -4.0], [980, 6.9e-10, -4.6], [1010, 7.0e-10, -4.4], [1042, 6.9e-10, -4.7], [1075, 7.0e-10, -4.3],
  [1108, 7.0e-10, -4.6], [1143, 7.1e-10, -4.5], [1179, 7.0e-10, -4.8], [1216, 7.1e-10, -4.4],
  [1250, 8.6e-10, 0.9], [1290, 8.7e-10, -0.8], [1330, 8.6e-10, 1.2], [1370, 8.7e-10, 4.3], [1410, 8.6e-10, 0.6],
  [1460, 8.7e-10, -1.0], [1500, 8.6e-10, 1.1], [1550, 8.7e-10, 0.4], [1600, 8.6e-10, -4.4], [1650, 8.7e-10, 1.0],
  [1700, 8.6e-10, 0.8], [1760, 8.7e-10, -0.6], [1810, 8.6e-10, 1.3], [1870, 8.7e-10, 0.5], [1930, 8.6e-10, 0.9],
  [1990, 8.7e-10, -1.1], [2050, 8.6e-10, 1.2], [2120, 8.7e-10, 0.7], [2180, 8.6e-10, 4.0], [2250, 8.7e-10, 0.3],
  [2320, 8.6e-10, 1.0], [2400, 8.7e-10, -0.7], [2470, 8.6e-10, 0.9], [2550, 8.7e-10, 1.2], [2630, 8.6e-10, 0.5],
  [2710, 8.7e-10, -1.0], [2800, 8.6e-10, 1.1], [2890, 8.7e-10, 0.8], [2980, 8.6e-10, 0.6],
  [1270, 8.15e-10, 0.4], [1310, 8.1e-10, 1.1], [1350, 8.2e-10, -1.2], [1390, 8.1e-10, 0.8], [1435, 8.2e-10, 1.3],
  [1480, 8.1e-10, 0.2], [1525, 8.2e-10, -0.9], [1575, 8.1e-10, 1.0], [1625, 8.2e-10, 0.7], [1675, 8.1e-10, -1.3],
  [1730, 8.2e-10, 1.2], [1785, 8.1e-10, 0.5], [1840, 8.2e-10, -0.4], [1900, 8.1e-10, 0.9], [1960, 8.2e-10, 1.1],
  [2020, 8.1e-10, 0.3], [2085, 8.2e-10, -1.0], [2150, 8.1e-10, 1.0], [2215, 8.2e-10, 0.6], [2285, 8.1e-10, 1.2],
  [2360, 8.2e-10, -0.8], [2435, 8.1e-10, 0.8], [2510, 8.2e-10, 0.4], [2590, 8.1e-10, -1.1], [2670, 8.2e-10, 1.0],
  [2755, 8.1e-10, 0.7], [2845, 8.2e-10, 1.3], [2935, 8.1e-10, -0.6],
  [1250, 7.7e-10, -1.0], [1290, 7.6e-10, 0.6], [1330, 7.7e-10, -1.5], [1370, 7.6e-10, -0.3], [1410, 7.7e-10, 0.9],
  [1460, 7.6e-10, -1.8], [1500, 7.7e-10, 0.4], [1550, 7.6e-10, -1.2], [1600, 7.7e-10, 1.0], [1650, 7.6e-10, -2.2],
  [1700, 7.7e-10, 0.5], [1760, 7.6e-10, -0.9], [1810, 7.7e-10, -1.6], [1870, 7.6e-10, 0.8], [1930, 7.7e-10, -2.5],
  [1990, 7.6e-10, 0.2], [2050, 7.7e-10, -1.3], [2120, 7.6e-10, 0.7], [2180, 7.7e-10, -1.9], [2250, 7.6e-10, -0.6],
  [2320, 7.7e-10, 0.9], [2400, 7.6e-10, -2.8], [2470, 7.7e-10, -1.0], [2550, 7.6e-10, 0.5], [2630, 7.7e-10, -1.5],
  [2710, 7.6e-10, -3.0], [2800, 7.7e-10, 0.6], [2890, 7.6e-10, -1.2], [2980, 7.7e-10, -0.4],
];

const fanPoints = [
  [110, 2.47e-10, -4.6], [112, 3.05e-10, -3.8], [114.5, 3.44e-10, 3.2], [115.7, 1.12e-10, -2.2], [112, 4.69e-10, -3.3],
  [118.7, 4.81e-10, -1.3], [115.7, 7.38e-10, 3.3], [109.8, 7.74e-10, -3.5], [120.6, 3.61e-10, 1.6], [123.2, 3.35e-10, 0.6],
  [126.4, 3.13e-10, 0.2], [123.2, 2.65e-10, 1.0], [127.7, 2.91e-10, 0.4], [131.1, 2.47e-10, -0.6], [134.5, 2.59e-10, 0.8],
  [136.7, 2.91e-10, 0.5], [140.3, 3.35e-10, -0.9], [142.5, 3.28e-10, -0.4], [146.3, 2.78e-10, 0.9], [148.6, 2.47e-10, -0.7],
  [131.7, 3.35e-10, -0.8], [120, 4.42e-11, 1.7], [118.7, 1.7e-11, 1.8], [124.5, 2.17e-11, 1.4], [127.7, 9.05e-11, -1.0],
  [131.1, 1.1e-10, -0.8], [130.4, 7.84e-11, -1.1], [138.1, 7.3e-11, -1.2], [139.6, 9.73e-11, -1.0], [129.7, 5.36e-11, -1.3],
  [140.3, 5.48e-11, -0.9], [141.8, 1.87e-11, -1.1], [144.7, 1.55e-11, -0.8], [146.3, 6.27e-12, -1.2], [133.1, 3.21e-12, -0.9],
  [129.1, 1.42e-12, -1.0], [146.3, 1.42e-12, -0.9], [138.8, 4.43e-13, -1.1], [157.3, 3.93e-13, -1.0], [160.6, 7.86e-13, -0.8],
  [155.7, 3.45e-12, -1.3], [162.3, 3.37e-12, -0.9], [145.5, 9.96e-11, -0.6], [153.3, 9.5e-11, -1.1], [155.7, 1.99e-10, -1.0],
  [158.1, 2.14e-10, 1.5], [155.7, 4.16e-10, -0.7], [154.1, 3.35e-10, 0.7], [161.5, 3.52e-10, -0.3], [164, 4.26e-10, 0.6],
  [168.3, 3.97e-10, -0.9], [172.8, 3.52e-10, 0.3], [175.5, 3.97e-10, -0.5], [170.9, 1.36e-10, -1.0], [178.2, 1.27e-10, -1.2],
  [170.1, 9.96e-11, -0.7], [166.6, 9.5e-11, -1.1], [177.3, 9.5e-11, -0.8], [180.1, 9.5e-11, -1.0], [186.8, 9.5e-11, -0.4],
  [186.8, 1.04e-10, 1.6], [157.3, 8.42e-11, -0.9], [166.6, 8.02e-11, -0.6], [159, 4.32e-11, -1.2], [174.6, 4.53e-11, -0.9],
  [184.9, 4.87e-11, -1.0], [187.8, 6.33e-11, -1.3], [190.7, 7.48e-11, 1.8], [200.9, 7.3e-11, -0.8], [209.5, 6.95e-11, -1.1],
  [213.9, 6.18e-11, 1.7], [161.5, 2.5e-11, -1.0], [165.7, 2.44e-11, 1.5], [154.1, 1.41e-11, -0.9], [164, 1.48e-11, -1.1],
  [149.4, 8.96e-12, -0.8], [169.2, 7.96e-12, 1.6], [191.7, 1.56e-10, -1.2], [196.8, 1.46e-10, -0.9], [204.1, 1.42e-10, 1.5],
  [209.5, 1.46e-10, -1.0], [211.7, 1.27e-10, -1.3], [182, 2.04e-10, -1.1], [188.8, 2.14e-10, -0.8], [196.8, 2.09e-10, -1.0],
  [215, 2.19e-10, -0.7], [221.8, 1.77e-10, -1.2], [190.7, 1.64e-10, 1.2], [200.9, 1.77e-10, -0.9], [189.7, 3.78e-10, 1.5],
  [197.8, 3.97e-10, 1.7], [215, 3.69e-10, -1.0], [219.5, 3.52e-10, -1.2], [210.6, 3.28e-10, -0.5], [184.9, 2.98e-10, -0.8],
  [188.8, 3.05e-10, -1.0], [193.7, 2.84e-10, -0.6], [197.8, 2.59e-10, -1.1], [198.9, 9.18e-12, 1.8], [212.8, 6.74e-12, 2.0],
  [218.4, 1.55e-11, 1.9], [228.9, 1.35e-11, 2.2], [238.7, 1.7e-11, 2.3], [215, 1.14e-11, -1.2], [227.7, 1.11e-11, -1.0],
  [243.7, 2.11e-11, -1.6], [241.2, 7.23e-12, 2.3], [225.4, 4.28e-12, 2.3], [259.4, 1.28e-11, -1.8], [279, 1.03e-11, 3.1],
  [295.5, 2.33e-11, -2.0], [308, 2.38e-11, 3.3], [303.3, 1.03e-11, 3.2], [303.3, 8.55e-12, -2.0], [306.4, 9.18e-12, -1.8],
  [294, 7.77e-12, -1.9], [294, 6.42e-12, -2.1], [297, 3.45e-12, 3.0], [304.9, 3.54e-12, -1.8], [319.4, 1.86e-12, -1.9],
  [271.8, 1.15e-12, -1.7], [287.9, 7.86e-13, 3.0], [266.2, 2.56e-13, -1.5], [239.9, 2.27e-13, 2.2], [284.9, 1.67e-13, 3.0],
  [340.1, 2.82e-13, 3.8], [242.4, 2.11e-11, 2.0], [239.9, 3.24e-11, 2.5], [264.9, 3.93e-11, 3.2], [242.4, 4.42e-11, -1.3],
  [259.4, 4.98e-11, -1.6], [232.5, 3.93e-11, 2.4], [224.2, 9.96e-11, -1.4], [242.4, 8.84e-11, -1.6], [242.4, 7.48e-11, -1.2],
  [271.8, 9.96e-11, 2.6], [277.5, 6.64e-11, 3.0], [287.9, 1.07e-10, 3.1], [287.9, 1.27e-10, 2.8], [232.5, 1.81e-10, 1.8],
  [239.9, 1.77e-10, -0.9], [236.2, 2.84e-10, 3.0], [255.4, 2.84e-10, 2.0], [266.2, 2.98e-10, 3.3], [273.2, 2.59e-10, -1.2],
  [276.1, 2.04e-10, -1.4], [286.4, 1.6e-10, 3.2], [246.2, 4.69e-10, -1.3], [247.5, 4.06e-10, -1.2], [246.2, 3.61e-10, 1.6],
  [258.1, 3.35e-10, -1.0], [262.1, 3.69e-10, -0.8], [259.4, 3.97e-10, -1.3], [262.1, 4.26e-10, -1.1], [280.4, 4.16e-10, -1.5],
  [283.4, 3.69e-10, 3.0], [287.9, 2.98e-10, -3.0], [290.9, 3.44e-10, -1.5], [298.6, 3.28e-10, -1.8], [283.4, 4.26e-10, -1.6],
  [271.8, 2.59e-10, 1.9], [266.2, 2.19e-10, -1.3], [276.1, 1.64e-10, -1.5], [294, 1.81e-10, -1.4], [294, 2.47e-10, 3.1],
  [290.9, 1.36e-10, 3.2], [298.6, 1.42e-10, -1.7], [301.7, 1.64e-10, 3.3], [314.5, 1.42e-10, 3.4], [322.8, 1.46e-10, 3.2],
  [311.2, 1.81e-10, 3.3], [306.4, 1.72e-10, 3.0], [317.8, 2.41e-10, 3.1], [326.2, 2.41e-10, -1.9], [333, 2.19e-10, -2.9],
  [340.1, 2.3e-10, -3.0], [340.1, 1.81e-10, 3.2], [345.4, 1.81e-10, 3.6], [347.2, 1.36e-10, 3.4], [334.8, 9.05e-11, 3.3],
  [327.9, 1.18e-10, -1.7], [314.5, 1.18e-10, -2.2], [322.8, 1.21e-10, -2.8], [316.1, 1.07e-10, -2.3], [352.7, 2.59e-10, 3.5],
  [358.2, 2.78e-10, -1.7], [371.6, 2.65e-10, 3.4], [377.4, 2.47e-10, 3.6], [371.6, 3.88e-10, 3.2], [377.4, 3.52e-10, 3.5],
  [381.4, 3.13e-10, -1.6], [363.8, 3.97e-10, -3.0], [389.3, 3.05e-10, -2.9], [408, 2.91e-10, 4.2], [423.2, 2.91e-10, 4.5],
  [414.4, 3.28e-10, 3.8], [434.4, 4.26e-10, -4.4], [448.3, 4.16e-10, -4.2], [457.6, 3.97e-10, -4.5], [464.8, 4.69e-10, -1.8],
  [472.1, 3.97e-10, 3.4], [484.6, 3.69e-10, -3.2], [489.7, 4.16e-10, -3.0], [502.6, 3.52e-10, -3.3], [507.9, 3.78e-10, -2.9],
  [515.8, 3.78e-10, -4.3], [523.9, 4.26e-10, -1.9], [543.4, 3.97e-10, 4.5], [563.6, 3.35e-10, -4.4], [578.5, 3.69e-10, -4.2],
  [557.8, 4.26e-10, -3.2], [581.5, 4.47e-10, -3.0], [418.8, 2.78e-10, -4.3], [425.4, 2.78e-10, -4.0], [408, 2.47e-10, 4.3],
  [414.4, 2.3e-10, 4.6], [397.6, 2.19e-10, -4.2], [391.4, 1.85e-10, -4.0], [401.8, 1.72e-10, -1.7], [391.4, 1.6e-10, 4.5],
  [395.4, 1.46e-10, 4.3], [383.3, 1.36e-10, 4.6], [397.6, 1.27e-10, 4.4], [399.7, 1.21e-10, 4.7], [423.2, 1.12e-10, -3.3],
  [427.6, 9.96e-11, -3.0], [403.8, 8.84e-11, 4.5], [414.4, 8.02e-11, 4.3], [414.4, 7.48e-11, 4.7], [425.4, 6.95e-11, -4.3],
  [408, 7.12e-11, -3.1], [393.4, 6.79e-11, -3.0], [397.6, 6.18e-11, -2.8], [377.4, 6.64e-11, 3.6], [387.3, 5.9e-11, 4.4],
  [362, 7.84e-11, -3.0], [352.7, 7.3e-11, -2.9], [367.7, 1.02e-10, -3.2], [363.8, 1.07e-10, -2.8], [371.6, 1.36e-10, -1.6],
  [358.2, 1.36e-10, -1.5], [383.3, 1.07e-10, -3.1], [391.4, 9.96e-11, -2.9], [362, 8.84e-11, -3.3], [317.8, 7.3e-11, 3.4],
  [327.9, 5.48e-11, -3.0], [340.1, 4.98e-11, -1.8], [345.4, 4.42e-11, -1.9], [349, 3.49e-11, -2.0], [314.5, 4.65e-11, 3.5],
  [319.4, 4.42e-11, 3.0], [306.4, 3.84e-11, -1.7], [287.9, 4.98e-11, -1.6], [367.7, 4.65e-11, 4.2], [373.5, 4.42e-11, 4.0],
  [383.3, 4.65e-11, 3.9], [391.4, 3.84e-11, 4.6], [358.2, 3.84e-11, -3.0], [367.7, 3.66e-11, -3.2], [345.4, 3.02e-11, -2.8],
  [349, 2.74e-11, -2.5], [327.9, 3.02e-11, 3.3], [334.8, 3.02e-11, 3.5], [317.8, 2.88e-11, -3.0], [303.3, 2.44e-11, 3.4],
  [298.6, 2.44e-11, 3.0], [294, 2.27e-11, -1.9], [309.6, 2.38e-11, 3.2], [314.5, 3.24e-11, -1.8], [377.4, 3.4e-11, -3.0],
  [401.8, 3.4e-11, 3.7], [354.5, 2.56e-11, -3.1], [363.8, 2.44e-11, -2.9], [371.6, 2.56e-11, 4.6], [391.4, 2.61e-11, 4.5],
  [403.8, 5.23e-11, 4.6], [429.9, 5.62e-11, 3.5], [352.7, 2.17e-11, -1.7], [358.2, 1.83e-11, 3.5], [326.2, 1.7e-11, 3.0],
  [340.1, 1.7e-11, 3.3], [327.9, 1.55e-11, 3.6], [347.2, 1.55e-11, -3.0], [350.8, 1.45e-11, 3.7], [358.2, 1.62e-11, -2.9],
  [343.7, 2.38e-11, 3.6], [349, 2.22e-11, -3.0], [365.7, 2.11e-11, -3.1], [365.7, 9.62e-12, -3.0], [387.3, 1.48e-11, -3.2],
  [395.4, 1.14e-11, -3.8], [405.9, 1.28e-11, -4.2], [423.2, 1.16e-11, -4.1], [434.4, 1.25e-11, -4.4], [448.3, 1.19e-11, -4.0],
  [432.1, 1.55e-11, -4.3], [410.1, 1.78e-11, 4.7], [418.8, 2.11e-11, 4.8], [403.8, 8.96e-12, 4.6], [385.3, 7.58e-12, 4.8],
  [354.5, 6.57e-12, 4.3], [356.3, 5.83e-12, 4.4], [391.4, 5.97e-12, 4.7], [333, 5.31e-12, 3.8], [371.6, 5.31e-12, -3.0],
  [349, 3.07e-12, -3.1], [360.1, 2.92e-12, -2.9], [395.4, 2.92e-12, 4.8], [395.4, 2.66e-12, -3.6], [416.6, 2.78e-12, -3.9],
  [416.6, 2.53e-12, -4.0], [410.1, 5.97e-12, -3.7], [443.5, 5.43e-12, -4.3], [457.6, 5.97e-12, -4.5], [436.6, 4.82e-12, -4.2],
  [460, 5.06e-12, -4.1], [494.8, 5.97e-12, -4.7], [477.1, 1.08e-11, -4.6], [482.1, 1.7e-11, -4.5], [460, 1.74e-11, -4.7],
  [455.3, 1.92e-11, -4.6], [455.3, 2.22e-11, -4.8], [464.8, 3.37e-12, -4.6], [477.1, 2.92e-12, -4.7], [497.4, 3.14e-12, -4.8],
  [445.8, 1.9e-12, -4.3], [460, 1.46e-12, -4.5], [479.6, 1.15e-12, -4.6], [401.8, 1.42e-12, -3.5], [414.4, 9.5e-13, -4.0],
  [441.2, 8.44e-13, -4.2], [469.7, 7.32e-13, -4.6], [489.7, 7.15e-13, -4.7], [494.8, 6.35e-13, -4.8], [425.4, 5.49e-13, -4.2],
  [410.1, 4.43e-13, -3.8], [474.6, 2.02e-13, -4.7], [445.8, 4.42e-11, -3.1], [425.4, 4.42e-11, -3.0], [438.9, 3.84e-11, -3.2],
  [403.8, 4.42e-11, -2.9], [393.4, 3.93e-11, -3.0], [464.8, 1.3e-10, 4.4], [469.7, 1.18e-10, 3.8], [457.6, 1.72e-10, 4.7],
  [452.9, 1.46e-10, 4.6], [460, 9.05e-11, -4.6], [464.8, 8.42e-11, -4.4], [445.8, 7.48e-11, -4.5], [457.6, 7.3e-11, -4.3],
  [441.2, 6.18e-11, -4.6], [434.4, 1.1e-10, -3.2], [445.8, 1.02e-10, -3.0], [421, 1.24e-10, -3.7], [429.9, 1.36e-10, -3.4],
  [438.9, 1.53e-10, -4.0], [472.1, 1.64e-10, -4.5], [477.1, 2.35e-10, -3.3], [469.7, 2.04e-10, 4.6], [457.6, 2.19e-10, -3.0],
  [441.2, 2.19e-10, 4.5], [429.9, 1.85e-10, 4.7], [434.4, 1.72e-10, 4.4], [489.7, 6.18e-11, -4.6], [507.9, 4.98e-11, -4.7],
  [505.2, 4.42e-11, -4.5], [535, 6.33e-11, -4.8], [484.6, 3.4e-11, -4.6], [464.8, 3.49e-11, -4.4], [457.6, 2.44e-11, -4.7],
  [500, 2.09e-10, -3.8], [523.9, 1.9e-10, -4.6], [551.9, 1.77e-10, -4.5], [563.6, 1.6e-10, -4.7], [535, 3.28e-10, -4.4],
  [537.7, 2.91e-10, -4.6], [510.5, 3.61e-10, -3.3], [587.6, 3.35e-10, -4.5], [572.5, 2.98e-10, -4.7], [566.5, 2.65e-10, -4.6],
  [551.9, 2.59e-10, -4.3], [642.2, 3.88e-10, -4.7], [658.8, 3.2e-10, -4.8], [669.2, 4.16e-10, -4.6], [694.1, 4.26e-10, -4.5],
  [705, 4.69e-10, -4.7], [716, 4.81e-10, -4.4], [676.2, 4.92e-10, -3.3], [625.5, 5.41e-10, -3.2], [593.8, 5.04e-10, -3.0],
  [679.7, 5.04e-10, -3.0], [754.4, 5.68e-10, -3.2], [782.4, 5.41e-10, -4.5], [794.7, 5.04e-10, -4.6], [837.1, 5.29e-10, -4.7],
  [868.3, 5.68e-10, -4.5], [900.5, 5.68e-10, -4.6], [948.6, 5.96e-10, -4.5], [988.9, 5.96e-10, -4.7], [877.4, 6.1e-10, -3.2],
  [1053, 6.55e-10, -3.0], [1144, 6.55e-10, -4.5], [1231, 6.55e-10, -4.6], [1296, 6.55e-10, -3.2], [1438, 6.55e-10, -4.6],
  [1563, 6.71e-10, -4.5], [1682, 6.71e-10, -4.7], [1867, 6.71e-10, -4.6], [2071, 6.87e-10, -4.5], [2372, 7.21e-10, -4.7],
  [2633, 7.39e-10, -4.6],
];

const scanPoints = [...bandLowPoints, ...bandMidPoints, ...bandHighPoints, ...fanPoints, ...curvePoints];

const xTickData = [...xMajorTicks.map((v) => [v, Y_MIN, 1]), ...xMinorTicks.map((v) => [v, Y_MIN, 0])];
const yTickData = [...yMajorTicks.map((v) => [X_MIN, v, 1]), ...yMinorTicks.map((v) => [X_MIN, v, 0])];

const txt = (extra: any) => ({ fontFamily: FONT, color: '#000', ...extra });

const powLabel = (v: number) => {
  const l = Math.log10(v);
  const e = Math.round(l);
  if (Math.abs(l - e) > 1e-6) return '';
  return `{b|10}{s|${e}}`;
};
const powRich = {
  b: txt({ fontSize: 22, lineHeight: 26, verticalAlign: 'bottom' }),
  s: txt({ fontSize: 15, lineHeight: 15, verticalAlign: 'top' }),
};

const TICK_STYLE = { stroke: '#000', lineWidth: 3 };

function buildOption() {
  const gradStops = lambdaPalette
    .map((c, i) => ({ offset: 1 - i / (lambdaPalette.length - 1), color: c }))
    .reverse();

  return {
    animation: false,
    backgroundColor: '#fff',
    grid: [
      {
        left: 113.5, top: 27.5, width: 885.5, height: 705,
        show: true, borderColor: '#000', borderWidth: 4.5, backgroundColor: 'transparent',
        outerBoundsMode: 'none', containLabel: false,
      },
      { left: 1020, top: 27.5, width: 45, height: 705, outerBoundsMode: 'none', containLabel: false },
    ],
    visualMap: {
      type: 'continuous', show: false, min: CB_MIN, max: CB_MAX, dimension: 2, seriesIndex: 0,
      inRange: { color: lambdaPalette },
    },
    xAxis: [
      {
        type: 'log', logBase: 10, gridIndex: 0, min: X_MIN, max: X_MAX,
        axisLine: { show: false }, axisTick: { show: false }, splitLine: { show: false },
        minorTick: { show: false }, minorSplitLine: { show: false },
        axisLabel: { formatter: powLabel, rich: powRich, margin: 14, hideOverlap: false },
        name: '{m|m}{h|H}{t|2}{m| [GeV]}', nameLocation: 'middle', nameGap: 40, nameMoveOverlap: false,
        nameTextStyle: {
          rich: {
            m: txt({ fontSize: 23, lineHeight: 26, verticalAlign: 'top' }),
            h: txt({ fontSize: 16, lineHeight: 16, verticalAlign: 'top', padding: [16, 0, 0, 1] }),
            t: txt({ fontSize: 12, lineHeight: 12, verticalAlign: 'top', padding: [26, 0, 0, 0] }),
          },
        },
      },
      { type: 'value', gridIndex: 1, min: 0, max: 1, show: false },
    ],
    yAxis: [
      {
        type: 'log', logBase: 10, gridIndex: 0, min: Y_MIN, max: Y_MAX,
        axisLine: { show: false }, axisTick: { show: false }, splitLine: { show: false },
        minorTick: { show: false }, minorSplitLine: { show: false },
        axisLabel: { formatter: powLabel, rich: powRich, margin: 21, hideOverlap: false },
        name: '{a|SI cross section: σ}{p|p}{a| [pb]}', nameLocation: 'middle', nameGap: 80, nameRotate: 90,
        nameMoveOverlap: false,
        nameTextStyle: {
          rich: {
            a: txt({ fontSize: 23, lineHeight: 30, verticalAlign: 'bottom' }),
            p: txt({ fontSize: 16, lineHeight: 16, verticalAlign: 'top' }),
          },
        },
      },
      {
        type: 'value', gridIndex: 1, min: CB_MIN, max: CB_MAX, interval: 1, position: 'right',
        axisLine: { show: false }, axisTick: { show: false }, splitLine: { show: false },
        axisLabel: {
          formatter: (v: number) => (Math.abs(v % 2) < 1e-9 ? String(v) : ''),
          fontFamily: FONT, fontSize: 22, color: '#000', align: 'right', margin: 32,
        },
        name: '{l|λ}{s|2}', nameLocation: 'middle', nameRotate: 0, nameGap: 33, nameMoveOverlap: false,
        nameTextStyle: {
          align: 'left',
          padding: [80, 0, 0, 0],
          rich: {
            l: txt({ fontSize: 24, lineHeight: 26, verticalAlign: 'top' }),
            s: txt({ fontSize: 17, lineHeight: 17, verticalAlign: 'top', padding: [13, 0, 0, 1] }),
          },
        },
      },
    ],
    series: [
      {
        type: 'scatter', name: 'δ = 40 GeV', xAxisIndex: 0, yAxisIndex: 0,
        symbol: 'rect', symbolSize: 5.5, data: scanPoints, silent: true, z: 2,
      },
      {
        type: 'line', name: 'XENON100', data: xenon100Line, showSymbol: false, symbol: 'none', smooth: 0.3,
        lineStyle: { color: '#ff1493', width: 2.5, type: [2, 2.6] }, silent: true, z: 4,
      },
      {
        type: 'line', name: 'LUX', data: luxLine, showSymbol: false, symbol: 'none', smooth: 0.3,
        lineStyle: { color: '#8b0000', width: 3, type: [9, 4, 3, 4] }, silent: true, z: 4,
      },
      {
        type: 'line', name: 'XENON1T', data: xenon1tLine, showSymbol: false, symbol: 'none', smooth: 0.3,
        lineStyle: { color: '#000', width: 3, type: [3.5, 5] }, silent: true, z: 4,
      },
      {
        type: 'custom', name: 'xticks', xAxisIndex: 0, yAxisIndex: 0, data: xTickData, silent: true, z: 5,
        encode: { x: 0, y: 1 }, clip: false,
        renderItem: (params: any, api: any) => {
          const cs = params.coordSys;
          const px = api.coord([api.value(0), Y_MIN])[0];
          const len = api.value(2) === 1 ? 10 : 5.5;
          const bottom = cs.y + cs.height;
          const top = cs.y;
          return {
            type: 'group',
            children: [
              { type: 'line', shape: { x1: px, y1: bottom, x2: px, y2: bottom - len }, style: TICK_STYLE },
              { type: 'line', shape: { x1: px, y1: top, x2: px, y2: top + len }, style: TICK_STYLE },
            ],
          };
        },
      },
      {
        type: 'custom', name: 'yticks', xAxisIndex: 0, yAxisIndex: 0, data: yTickData, silent: true, z: 5,
        encode: { x: 0, y: 1 }, clip: false,
        renderItem: (params: any, api: any) => {
          const cs = params.coordSys;
          const py = api.coord([X_MIN, api.value(1)])[1];
          const len = api.value(2) === 1 ? 10 : 5.5;
          const left = cs.x;
          const right = cs.x + cs.width;
          return {
            type: 'group',
            children: [
              { type: 'line', shape: { x1: left, y1: py, x2: left + len, y2: py }, style: TICK_STYLE },
              { type: 'line', shape: { x1: right, y1: py, x2: right - len, y2: py }, style: TICK_STYLE },
            ],
          };
        },
      },
      {
        type: 'custom', name: 'colorbar', xAxisIndex: 1, yAxisIndex: 1, data: [[0.5, 0]], silent: true, z: 5,
        encode: { x: 0, y: 1 }, clip: false,
        renderItem: (params: any, api: any) => {
          const cs = params.coordSys;
          const top = api.coord([0, CB_MAX])[1];
          const bot = api.coord([0, CB_MIN])[1];
          const children: any[] = [
            {
              type: 'rect',
              shape: { x: cs.x, y: top, width: cs.width, height: bot - top },
              style: { fill: new echarts.graphic.LinearGradient(0, 0, 0, 1, gradStops) },
            },
          ];
          cbTicks.forEach((t) => {
            const y = api.coord([0, t])[1];
            children.push({ type: 'line', shape: { x1: cs.x, y1: y, x2: cs.x + 9, y2: y }, style: TICK_STYLE });
            children.push({
              type: 'line', shape: { x1: cs.x + cs.width, y1: y, x2: cs.x + cs.width - 9, y2: y }, style: TICK_STYLE,
            });
          });
          children.push({
            type: 'rect',
            shape: { x: cs.x, y: top, width: cs.width, height: bot - top },
            style: { fill: 'none', stroke: '#000', lineWidth: 4.5 },
          });
          return { type: 'group', children };
        },
      },
    ],
    graphic: [
      {
        type: 'text', x: 893, y: 50, silent: true,
        style: {
          text: 'δ = 40 GeV', fontSize: 22, fontFamily: FONT, fill: '#000',
          align: 'right', verticalAlign: 'middle', textAlign: 'right', textVerticalAlign: 'middle',
        },
      },
      {
        type: 'rect', silent: true, shape: { x: 937.5, y: 47, width: 5, height: 5 }, style: { fill: '#ff1a0a' },
      },
      {
        type: 'text', x: 844, y: 191, rotation: 0.22, silent: true,
        style: {
          text: 'XENON100', fontSize: 22, fontFamily: FONT, fill: '#ff1493',
          align: 'center', verticalAlign: 'middle', textAlign: 'center', textVerticalAlign: 'middle',
        },
      },
      {
        type: 'text', x: 807, y: 249, rotation: 0.22, silent: true,
        style: {
          text: 'LUX', fontSize: 22, fontFamily: FONT, fill: '#8b0000',
          align: 'center', verticalAlign: 'middle', textAlign: 'center', textVerticalAlign: 'middle',
        },
      },
      {
        type: 'text', x: 350, y: 523, rotation: 0.19, silent: true,
        style: {
          text: 'XENON1T', fontSize: 22, fontFamily: FONT, fill: '#000',
          align: 'center', verticalAlign: 'middle', textAlign: 'center', textVerticalAlign: 'middle',
        },
      },
    ],
  };
}

export default function App() {
  const ref = useRef<HTMLDivElement>(null);
  useEffect(() => {
    if (!ref.current) return;
    const chart = echarts.init(ref.current, undefined, { renderer: 'svg' });
    chart.setOption(buildOption() as any);
    return () => chart.dispose();
  }, []);
  return (
    <div
      ref={ref}
      style={{ position: 'fixed', left: 0, top: 0, width: 1186, height: 830, background: '#fff' }}
    />
  );
}
